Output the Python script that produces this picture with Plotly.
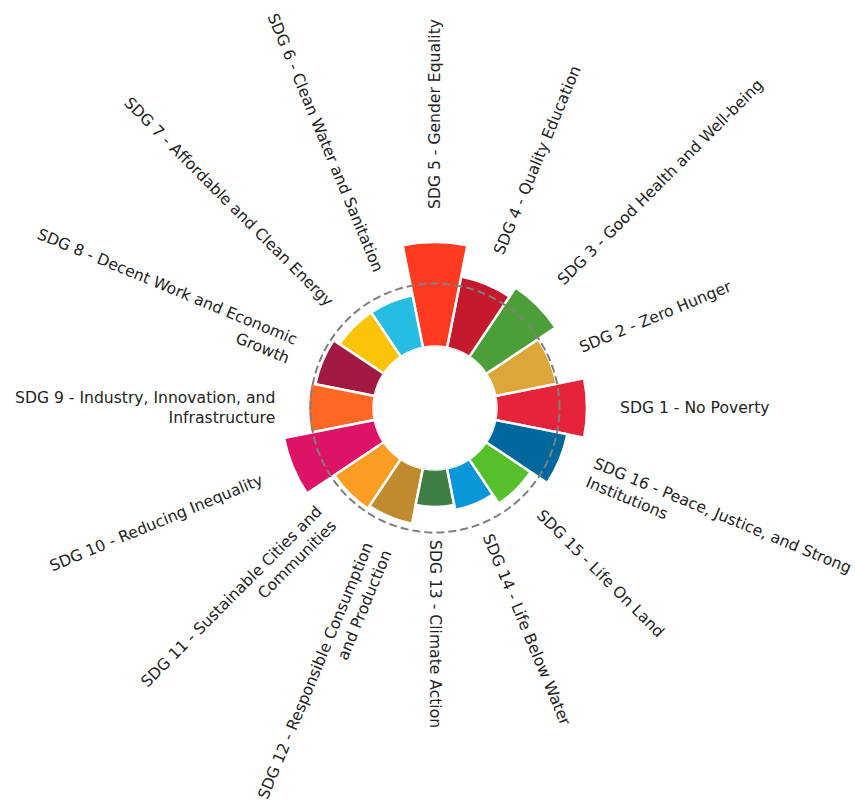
import math
import plotly.graph_objects as go

# ---------------- data ----------------
labels = [
    "SDG 1 - No Poverty",
    "SDG 2 - Zero Hunger",
    "SDG 3 - Good Health and Well-being",
    "SDG 4 - Quality Education",
    "SDG 5 - Gender Equality",
    "SDG 6 - Clean Water and Sanitation",
    "SDG 7 - Affordable and Clean Energy",
    "SDG 8 - Decent Work and Economic\nGrowth",
    "SDG 9 - Industry, Innovation, and\nInfrastructure",
    "SDG 10 - Reducing Inequality",
    "SDG 11 - Sustainable Cities and\nCommunities",
    "SDG 12 - Responsible Consumption\nand Production",
    "SDG 13 - Climate Action",
    "SDG 14 - Life Below Water",
    "SDG 15 - Life On Land",
    "SDG 16 - Peace, Justice, and Strong\nInstitutions",
]
values = [90.5, 62.5, 83.5, 72.5, 104.5, 53.5, 53.5, 60.5,
          65.5, 92.5, 59.5, 56.5, 37.5, 42.5, 53.5, 73.5]
colors = ["#E5243B", "#DDA63A", "#4C9F38", "#C5192D", "#FF3A21", "#26BDE2",
          "#FCC30B", "#A21942", "#FD6925", "#DD1367", "#FD9D24", "#BF8B2E",
          "#3F7E44", "#0A97D9", "#56C02B", "#00689D"]
reference = 63

# ---------------- geometry ----------------
W, H = 855, 805
CX, CY = 435, 408          # centre of the polar plot (px)
HOLE_PX = 61.5             # radius of the empty centre
RMAX = 110                 # radial axis max (data units)
SCALE = 1.0                # px per data unit
R_OUT = HOLE_PX + RMAX * SCALE
hole = HOLE_PX / R_OUT
FONT = "DejaVu Sans"
FS = 15.6
PAD = 31

n = len(labels)
step = 360.0 / n
angles = [i * step for i in range(n)]

fig = go.Figure()
fig.add_trace(go.Barpolar(
    r=values, theta=angles, width=[step] * n,
    marker=dict(color=colors, line=dict(color="white", width=2.5)),
    hoverinfo="skip", showlegend=False,
))
circ_theta = [i * 2 for i in range(181)]
fig.add_trace(go.Scatterpolar(
    r=[reference] * len(circ_theta), theta=circ_theta, mode="lines",
    line=dict(color="#7f7f7f", width=2, dash="8px,4px"),
    hoverinfo="skip", showlegend=False,
))

annotations = []
for lab, ang, v in zip(labels, angles, values):
    a = ang if ang <= 180 else ang - 360
    rad = math.radians(a)
    c, s = math.cos(rad), math.sin(rad)
    rl = HOLE_PX + v * SCALE + PAD
    sx, sy = rl * c, rl * s          # y up, relative to centre
    nlines = lab.count("\n") + 1
    h = nlines * FS * 1.3 + 2
    eps = 1e-6
    if c > eps:
        xa, x = "left", sx - abs(s) * h / 2
    elif c < -eps:
        xa, x = "right", sx + abs(s) * h / 2
    else:
        xa, x = "center", sx
    if s > eps:
        ya, y = "bottom", sy - abs(c) * h / 2
    elif s < -eps:
        ya, y = "top", sy + abs(c) * h / 2
    else:
        ya, y = "middle", sy
    right_side = -90 - eps <= a <= 90 + eps
    textangle = -a if right_side else 180 - a
    annotations.append(dict(
        text=lab.replace("\n", "<br>"), xref="paper", yref="paper",
        x=(CX + x) / W, y=1 - (CY - y) / H, xanchor=xa, yanchor=ya,
        textangle=textangle, showarrow=False,
        align="left" if right_side else "right",
        font=dict(family=FONT, size=FS, color="#222222"),
    ))

fig.update_layout(
    width=W, height=H, margin=dict(l=0, r=0, t=0, b=0),
    paper_bgcolor="white", plot_bgcolor="white",
    annotations=annotations,
    polar=dict(
        domain=dict(x=[(CX - R_OUT) / W, (CX + R_OUT) / W],
                    y=[1 - (CY + R_OUT) / H, 1 - (CY - R_OUT) / H]),
        hole=hole, bgcolor="white", bargap=0,
        radialaxis=dict(range=[0, RMAX], visible=False, showgrid=False),
        angularaxis=dict(visible=False, showgrid=False, rotation=0,
                         direction="counterclockwise"),
    ),
)
fig.write_html(
    "out.html",
    config={"displayModeBar": False},
    post_script="document.body.style.margin='0px';"
                "document.body.style.overflow='hidden';",
)
